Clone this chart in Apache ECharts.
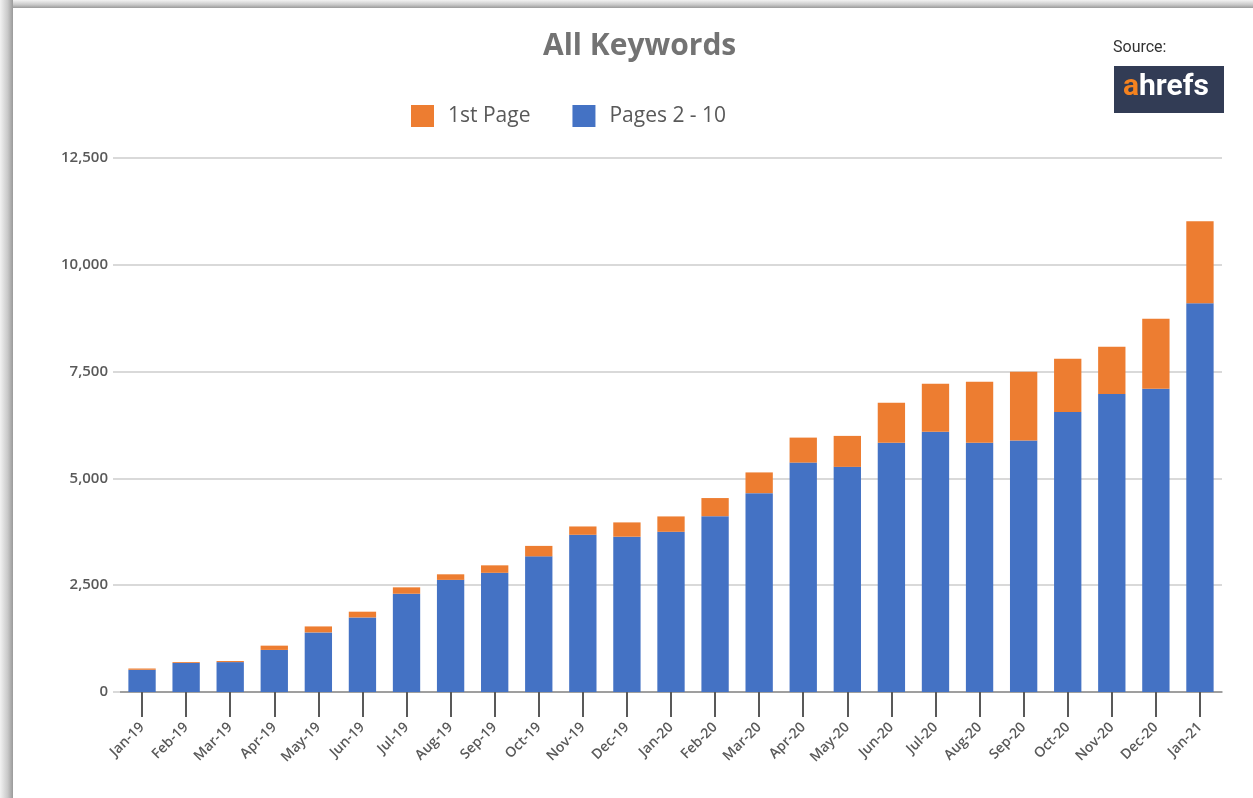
<!DOCTYPE html>
<html>
<head>
<meta charset="utf-8">
<script src="https://cdn.jsdelivr.net/npm/echarts@6/dist/echarts.min.js"></script>
<style>
  html, body { margin: 0; padding: 0; width: 1253px; height: 798px; overflow: hidden; background: #fff; }
  #shadowLeft { position: absolute; left: 0; top: 0; width: 13px; height: 798px;
    background: linear-gradient(to right, #f2f2f2 0%, #c8c8c8 60%, #9a9a9a 100%); }
  #shadowTop { position: absolute; left: 0; top: 0; width: 1253px; height: 8px;
    background: linear-gradient(to bottom, #f2f2f2 0%, #c8c8c8 60%, #9a9a9a 100%); }
  #chart { position: absolute; left: 0; top: 0; width: 1253px; height: 798px; }
</style>
</head>
<body>
<div id="chart"></div>
<div id="shadowTop"></div>
<div id="shadowLeft"></div>
<script>
const categories = ['Jan-19','Feb-19','Mar-19','Apr-19','May-19','Jun-19','Jul-19','Aug-19','Sep-19','Oct-19','Nov-19','Dec-19',
  'Jan-20','Feb-20','Mar-20','Apr-20','May-20','Jun-20','Jul-20','Aug-20','Sep-20','Oct-20','Nov-20','Dec-20','Jan-21'];
const pages2to10 = [520, 680, 700, 985, 1395, 1745, 2300, 2625, 2790, 3175, 3680, 3635,
  3750, 4115, 4655, 5370, 5270, 5835, 6090, 5835, 5890, 6555, 6975, 7100, 9100];
const totals = [550, 700, 725, 1085, 1535, 1880, 2450, 2755, 2965, 3420, 3875, 3970,
  4110, 4540, 5140, 5955, 5995, 6770, 7215, 7260, 7495, 7800, 8080, 8735, 11020];
const firstPage = totals.map((t, i) => t - pages2to10[i]);
const yTicks = [0, 2500, 5000, 7500, 10000, 12500];

const chart = echarts.init(document.getElementById('chart'));
const labelColor = '#595959';
chart.setOption({
  animation: false,
  title: {
    text: 'All Keywords', left: 538, top: 26,
    textStyle: { fontFamily: 'Open Sans', fontWeight: 'bold', fontSize: 30, color: '#737373' }
  },
  legend: {
    data: ['1st Page', 'Pages 2 - 10'],
    left: 406, top: 100,
    itemWidth: 23, itemHeight: 22, itemGap: 42,
    icon: 'rect',
    textStyle: { fontFamily: 'Open Sans', fontSize: 21, color: labelColor, padding: [0, 0, 0, 9] }
  },
  grid: { left: 120, right: 31, top: 158, bottom: 106 },
  xAxis: {
    type: 'category', data: categories,
    axisLine: { show: true, lineStyle: { color: '#8c8c8c', width: 1.5 } },
    axisTick: { show: true, alignWithLabel: true, length: 25, lineStyle: { color: '#595959', width: 2 } },
    axisLabel: { rotate: 45, margin: 33, fontFamily: 'Open Sans', fontWeight: 600, fontSize: 14, color: labelColor, interval: 0 }
  },
  yAxis: {
    type: 'value', min: yTicks[0], max: yTicks[yTicks.length - 1], interval: 2500,
    axisLine: { show: false },
    axisTick: { show: true, length: 7, lineStyle: { color: '#d9d9d9', width: 2 } },
    splitLine: { lineStyle: { color: '#d9d9d9', width: 2 } },
    axisLabel: {
      margin: 12, fontFamily: 'Open Sans', fontWeight: 600, fontSize: 15, color: labelColor,
      formatter: v => v.toLocaleString('en-US')
    }
  },
  series: [
    { name: 'Pages 2 - 10', type: 'bar', stack: 'k', data: pages2to10, barWidth: '62%',
      itemStyle: { color: '#4472C4' } },
    { name: '1st Page', type: 'bar', stack: 'k', data: firstPage, barWidth: '62%',
      itemStyle: { color: '#ED7D31' } }
  ],
  graphic: [
    { type: 'text', left: 1113, top: 40,
      style: { text: 'Source:', fontFamily: 'Roboto', fontSize: 16, fill: '#333333' } },
    { type: 'rect', left: 1114, top: 66, shape: { width: 110, height: 47 },
      style: { fill: '#323c55' } },
    { type: 'text', left: 1123, top: 72,
      style: { rich: {
        a: { fontFamily: 'Roboto', fontWeight: 'bold', fontSize: 30, fill: '#F5821F' },
        b: { fontFamily: 'Roboto', fontWeight: 'bold', fontSize: 30, fill: '#ffffff' }
      }, text: '{a|a}{b|hrefs}' } }
  ]
});
</script>
</body>
</html>
